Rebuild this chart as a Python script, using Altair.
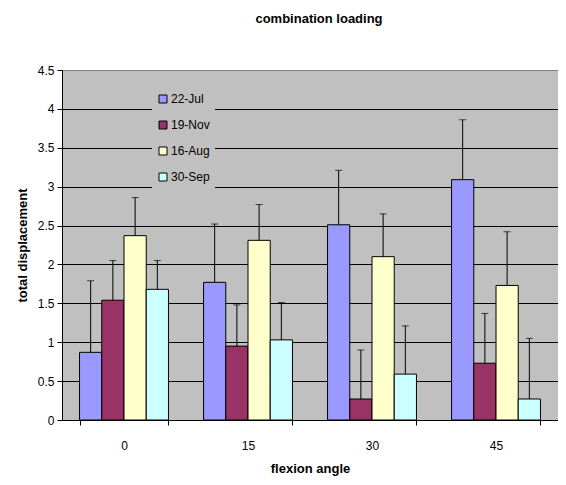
import altair as alt
import pandas as pd

angles = ["0", "15", "30", "45"]
series = ["22-Jul", "19-Nov", "16-Aug", "30-Sep"]
colors = ["#9999ff", "#993366", "#ffffcc", "#ccffff"]

values = {
    "22-Jul": [0.87, 1.77, 2.51, 3.09],
    "19-Nov": [1.54, 0.95, 0.27, 0.73],
    "16-Aug": [2.37, 2.31, 2.10, 1.73],
    "30-Sep": [1.68, 1.03, 0.59, 0.27],
}
errors = {
    "22-Jul": [0.92, 0.75, 0.70, 0.77],
    "19-Nov": [0.51, 0.53, 0.63, 0.64],
    "16-Aug": [0.49, 0.46, 0.55, 0.69],
    "30-Sep": [0.37, 0.48, 0.62, 0.78],
}
y_ticks = [0, 0.5, 1, 1.5, 2, 2.5, 3, 3.5, 4, 4.5]

rows = []
for s in series:
    for i, a in enumerate(angles):
        v = values[s][i]
        e = errors[s][i]
        rows.append({"angle": a, "series": s, "value": v, "top": v + e})
df = pd.DataFrame(rows)

FONT = "Liberation Sans"

x = alt.X("angle:N", sort=angles, title="flexion angle",
          scale=alt.Scale(paddingInner=0.283, paddingOuter=0.1415),
          axis=alt.Axis(labelAngle=0, tickBand="extent", tickSize=5,
                        tickColor="black", domainColor="black",
                        labelFontSize=12, labelFont=FONT, labelPadding=15,
                        labelColor="black", titleColor="black",
                        titleFont=FONT, titleFontSize=13, titleFontWeight="bold",
                        titlePadding=11, grid=False))
xoff = alt.XOffset("series:N", sort=series)

yscale = alt.Scale(domain=[0, 4.5], nice=False)
yaxis = alt.Axis(values=y_ticks, format="~g", tickSize=5, tickColor="black",
                 domainColor="black", labelFontSize=12, labelFont=FONT,
                 labelColor="black", titleColor="black",
                 labelPadding=3, titleFont=FONT, titleFontSize=13,
                 titleFontWeight="bold", titlePadding=8, labelOverlap=False,
                 grid=True,
                 gridColor={"condition": {"test": "datum.value >= 4.5", "value": "#808080"},
                            "value": "black"},
                 gridWidth=1)
y = alt.Y("value:Q", title="total displacement", scale=yscale, axis=yaxis)

base = alt.Chart(df)

bars = base.mark_bar(stroke="black", strokeWidth=1).encode(
    x=x,
    xOffset=xoff,
    y=y,
    color=alt.Color("series:N", sort=series,
                    scale=alt.Scale(domain=series, range=colors),
                    legend=alt.Legend(title=None, orient="none", legendX=90, legendY=18,
                                      fillColor="#c0c0c0", padding=5,
                                      symbolType="square", symbolSize=64,
                                      symbolStrokeColor="black", symbolStrokeWidth=1,
                                      symbolOpacity=1, labelColor="black",
                                      labelFont=FONT, labelFontSize=12, labelOffset=2,
                                      rowPadding=14)),
)

rules = base.mark_rule(color="black", strokeWidth=1).encode(
    x=x, xOffset=xoff, y=y, y2="top:Q"
)

caps = base.mark_tick(color="black", size=7, thickness=1, orient="horizontal").encode(
    x=x, xOffset=xoff,
    y=alt.Y("top:Q", title="total displacement", scale=yscale, axis=yaxis)
)

chart = alt.layer(bars, rules, caps).properties(
    width=496, height=350,
    autosize=alt.AutoSizeParams(type="none"),
    title=alt.Title("combination loading", font=FONT, fontSize=13, fontWeight="bold",
                    color="black", anchor="middle", dx=9, offset=38),
    padding={"left": 54, "top": 62, "right": 0, "bottom": 57},
).configure(
    background="white",
).configure_view(
    fill="#c0c0c0", stroke="#808080", strokeWidth=1
)

chart.save("out.html", embed_options={"renderer": "svg", "actions": False})
